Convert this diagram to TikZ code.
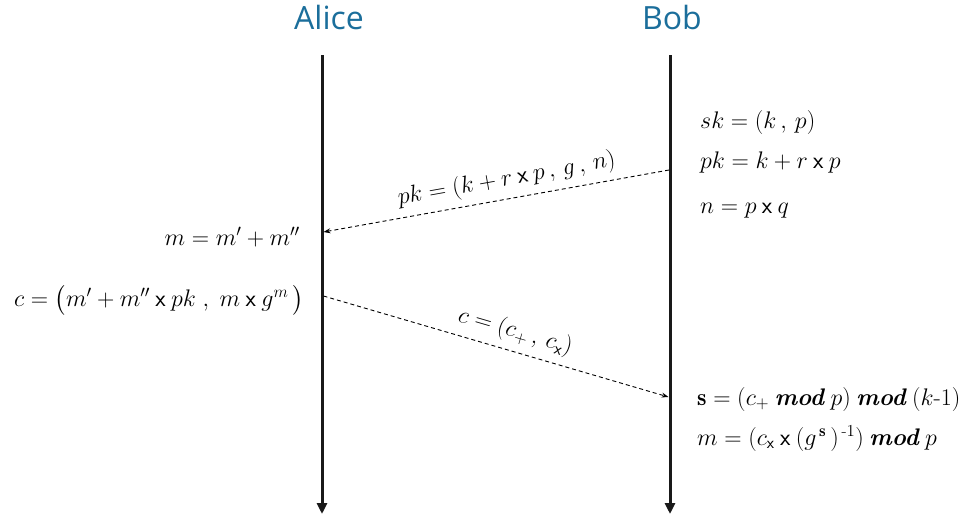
\RequirePackage{fix-cm}
\documentclass[tikz,border=0pt]{standalone}
\usepackage{amsmath}
\usepackage{fontspec}
\usetikzlibrary{arrows.meta}
\newfontfamily\titlefont{Open Sans}
\definecolor{titleblue}{RGB}{27,110,155}
\newcommand{\tx}{\mathbin{\textsf{x}}}
\newcommand{\md}{\mathbin{\textbf{\textit{mod}}}}
\tikzset{
 lifeline/.style={line width=3pt, draw=black!90, -{Triangle[width=10pt,length=11pt]}},
 msg/.style={dash pattern=on 4pt off 3pt, line width=0.9pt, -{Stealth[length=7pt,width=5pt]}},
 actor/.style={font=\titlefont\fontsize{32}{36}\selectfont, text=titleblue, inner sep=0pt},
 eq/.style={font=\fontsize{24}{28}\selectfont, inner sep=0pt},
 lbl/.style={font=\fontsize{24}{28}\selectfont, inner sep=7pt, sloped, above}
}
\begin{document}
\begin{tikzpicture}[x=1pt,y=1pt]
\useasboundingbox (0,0) rectangle (962,-523);
\node[actor] (alice) at (329,-17) {Alice};
\node[actor] (bob) at (672,-17) {Bob};
\coordinate (aTop) at (322,-55);
\coordinate (aBot) at (322,-514);
\coordinate (bTop) at (670,-55);
\coordinate (bBot) at (670,-514);
\draw[lifeline] (aTop) -- (aBot);
\draw[lifeline] (bTop) -- (bBot);
\node[eq, anchor=base west] (sk) at (700,-128) {$sk = (k\,,\, p)$};
\node[eq, anchor=base west] (pk) at (700,-168) {$pk = k + r \tx p$};
\node[eq, anchor=base west] (n) at (700,-213) {$n = p \tx q$};
\node[eq, anchor=base east] (m1) at (300,-245) {$m = m' + m''$};
\node[eq, anchor=base east] (c1) at (304,-306) {$c = \bigl(m' + m'' \tx pk\;,\; m \tx g^{m}\,\bigr)$};
\node[eq, anchor=base west] (s) at (697,-405) {$\mathbf{s} = (c_{+} \md p) \md (k\text{-}1)$};
\node[eq, anchor=base west] (m2) at (697,-445) {$m = (c_{\textsf{x}} \tx (g^{\,\mathbf{s}}\,)^{\,\text{-}1}) \md p$};
\coordinate (b1) at (669,-170);
\coordinate (a1) at (323.5,-232);
\draw[msg] (b1) -- node[lbl, pos=0.46] (l1) {$pk = (k + r \tx p\,,\, g\,,\, n)$} (a1);
\coordinate (a2) at (323.5,-296);
\coordinate (b2) at (668.5,-397);
\draw[msg] (a2) -- node[lbl, pos=0.54] (l2) {$c = (c_{+}\,,\, c_{\textsf{x}})$} (b2);
\end{tikzpicture}
\end{document}
